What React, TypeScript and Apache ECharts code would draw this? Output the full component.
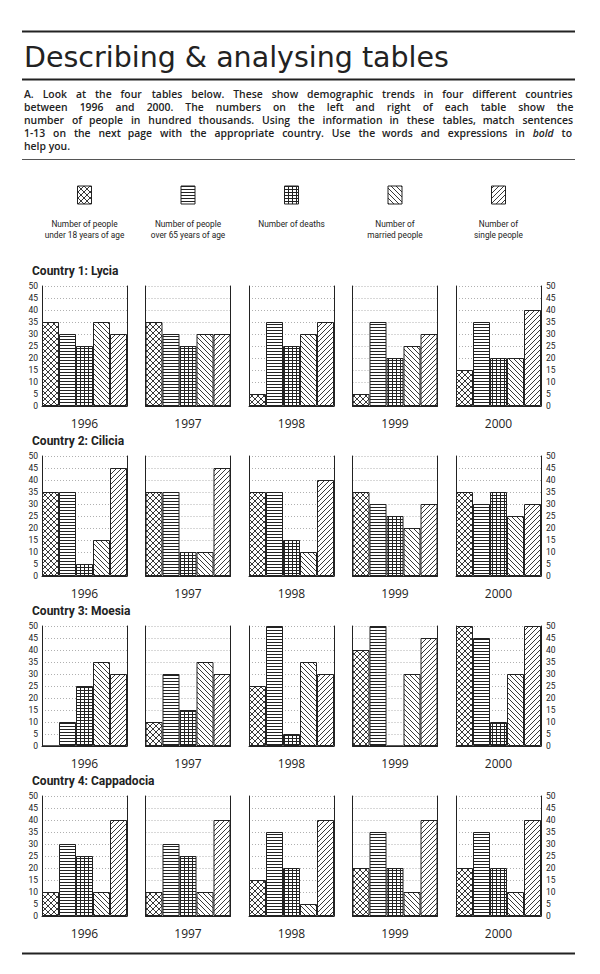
import React, { useEffect, useRef } from "react";
import * as echarts from "echarts";

// ---------- data ----------
const years = ["1996", "1997", "1998", "1999", "2000"];
const groupKeys = ["under18", "over65", "deaths", "married", "single"];
const legendLines = [
  ["Number of people", "under 18 years of age"],
  ["Number of people", "over 65 years of age"],
  ["Number of deaths"],
  ["Number of", "married people"],
  ["Number of", "single people"],
];
const countries = ["Country 1: Lycia", "Country 2: Cilicia", "Country 3: Moesia", "Country 4: Cappadocia"];

// each row = one year; values in order: under 18, over 65, deaths, married, single
const lycia = [
  [35, 30, 25, 35, 30],
  [35, 30, 25, 30, 30],
  [5, 35, 25, 30, 35],
  [5, 35, 20, 25, 30],
  [15, 35, 20, 20, 40],
];
const cilicia = [
  [35, 35, 5, 15, 45],
  [35, 35, 10, 10, 45],
  [35, 35, 15, 10, 40],
  [35, 30, 25, 20, 30],
  [35, 30, 35, 25, 30],
];
const moesia = [
  [0, 10, 25, 35, 30],
  [10, 30, 15, 35, 30],
  [25, 50, 5, 35, 30],
  [40, 50, 0, 30, 45],
  [50, 45, 10, 30, 50],
];
const cappadocia = [
  [10, 30, 25, 10, 40],
  [10, 30, 25, 10, 40],
  [15, 35, 20, 5, 40],
  [20, 35, 20, 10, 40],
  [20, 35, 20, 10, 40],
];
const countryData = [lycia, cilicia, moesia, cappadocia];

const yMin = 0;
const yMax = 50;
const yStep = 5;

const titleText = "Describing & analysing tables";
const paragraphLines = [
  "A. Look at the four tables below. These show demographic trends in four different countries",
  "between 1996 and 2000. The numbers on the left and right of each table show the",
  "number of people in hundred thousands. Using the information in these tables, match sentences",
  "1-13 on the next page with the appropriate country. Use the words and expressions in bold to",
  "help you.",
];

// ---------- styling / layout ----------
const INK = "#222";
const SMALL = "'Roboto', 'Liberation Sans', sans-serif";
const SANS = "'Open Sans', 'Noto Sans', sans-serif";
const FRAME_LEFT = 42;
const FRAME_STEP = 103.5;
const FRAME_W = 85;
const FRAME_H = 120;
const ROW_TOP = 286;
const ROW_STEP = 170;
const TEXT_LEFT = 24;
const TEXT_RIGHT = 573;

type Drawer = (ctx: CanvasRenderingContext2D, w: number, h: number) => void;

function tile(w: number, h: number, draw: Drawer) {
  const c = document.createElement("canvas");
  c.width = w;
  c.height = h;
  const ctx = c.getContext("2d")!;
  ctx.fillStyle = "#fff";
  ctx.fillRect(0, 0, w, h);
  ctx.fillStyle = INK;
  ctx.strokeStyle = INK;
  ctx.lineWidth = 0.9;
  draw(ctx, w, h);
  return { image: c.toDataURL(), repeat: "repeat", imageWidth: w, imageHeight: h };
}

function diag(ctx: CanvasRenderingContext2D, s: number, back: boolean) {
  ctx.beginPath();
  for (let k = -1; k <= 1; k++) {
    if (back) {
      ctx.moveTo(k * s - 1, -1);
      ctx.lineTo(k * s + s + 1, s + 1);
    } else {
      ctx.moveTo(k * s - 1, s + 1);
      ctx.lineTo(k * s + s + 1, -1);
    }
  }
  ctx.stroke();
}

function makePatterns() {
  return [
    tile(6, 6, (ctx, w) => {
      diag(ctx, w, true);
      diag(ctx, w, false);
    }),
    tile(4, 3, (ctx, w) => {
      ctx.fillRect(0, 0, w, 1);
    }),
    tile(4, 3, (ctx, w, h) => {
      ctx.fillRect(0, 0, w, 1);
      ctx.fillRect(0, 0, 1, h);
    }),
    tile(5, 5, (ctx, w) => diag(ctx, w, true)),
    tile(5, 5, (ctx, w) => diag(ctx, w, false)),
  ];
}

function justify(line: string, font: string, target: number): string {
  const ctx = document.createElement("canvas").getContext("2d")!;
  ctx.font = font;
  const w = ctx.measureText(line).width;
  const words = line.split(" ");
  const gaps = words.length - 1;
  const hair = ctx.measureText("\u200A").width || 1;
  if (gaps <= 0 || w >= target) return line;
  const extra = target - w;
  let out = "";
  for (let i = 0; i < words.length; i++) {
    out += words[i];
    if (i < gaps) {
      const n = Math.round((extra * (i + 1)) / gaps / hair) - Math.round((extra * i) / gaps / hair);
      out += " " + "\u200A".repeat(Math.max(0, n));
    }
  }
  return out;
}

export default function App() {
  const ref = useRef<HTMLDivElement>(null);

  useEffect(() => {
    document.body.style.margin = "0";
    const chart = echarts.init(ref.current!, null, { renderer: "svg", width: 600, height: 974 });
    const patterns = makePatterns();

    const grids: any[] = [];
    const xAxes: any[] = [];
    const yAxes: any[] = [];
    const series: any[] = [];

    countryData.forEach((rows, r) => {
      rows.forEach((vals, c) => {
        const g = r * 5 + c;
        grids.push({
          left: FRAME_LEFT + FRAME_STEP * c,
          top: ROW_TOP + ROW_STEP * r,
          width: FRAME_W,
          height: FRAME_H,
        });
        xAxes.push({
          gridIndex: g,
          type: "category",
          data: groupKeys,
          axisLine: { show: true, lineStyle: { color: INK, width: 1 } },
          axisTick: { show: false },
          axisLabel: { show: false },
          splitLine: { show: false },
          name: years[c],
          nameLocation: "middle",
          nameGap: 11,
          nameTextStyle: { fontSize: 12, color: INK, fontFamily: SANS },
        });
        const yBase = {
          gridIndex: g,
          type: "value",
          min: yMin,
          max: yMax,
          interval: yStep,
          axisLine: { show: true, lineStyle: { color: INK, width: 1 } },
          axisTick: { show: false },
        };
        yAxes.push({
          ...yBase,
          position: "left",
          axisLabel: { show: c === 0, margin: 4, fontSize: 8.5, color: INK, fontFamily: SMALL },
          splitLine: { show: true, lineStyle: { color: "#b0b0b0", type: [1, 2], width: 1 } },
        });
        yAxes.push({
          ...yBase,
          position: "right",
          axisLabel: { show: c === 4, margin: 5, fontSize: 8.5, color: INK, fontFamily: SMALL },
          splitLine: { show: false },
        });
        series.push({
          type: "bar",
          name: countries[r] + " " + years[c],
          xAxisIndex: g,
          yAxisIndex: 2 * g,
          barCategoryGap: "0%",
          silent: true,
          itemStyle: { borderColor: INK, borderWidth: 1 },
          data: vals.map((v, i) => ({ value: v, itemStyle: { color: patterns[i] } })),
        });
      });
    });

    const paraFont = `600 10.4px 'Open Sans'`;
    const elements: any[] = [];
    const rule = (y: number, w: number, color = INK) =>
      elements.push({
        type: "line",
        shape: { x1: 22, y1: y, x2: 575, y2: y },
        style: { stroke: color, lineWidth: w },
      });
    rule(31.5, 2);
    rule(79.5, 2);
    rule(159.5, 1.2, "#555");
    rule(953.5, 2);

    elements.push({
      type: "text",
      x: TEXT_LEFT,
      y: 57,
      style: {
        text: titleText,
        font: `400 28.5px 'DejaVu Sans'`,
        fill: INK,
        verticalAlign: "middle",
      },
    });

    paragraphLines.forEach((line, i) => {
      const last = i === paragraphLines.length - 1;
      let txt = last ? line : justify(line, paraFont, TEXT_RIGHT - TEXT_LEFT);
      const rich: any = {};
      if (/\sbold\s/u.test(txt)) {
        txt = txt.replace(/(\s)bold(\s)/u, "$1{i|bold}$2");
        rich.i = { font: `italic 600 10.4px 'Open Sans'`, fill: INK };
      }
      elements.push({
        type: "text",
        x: TEXT_LEFT,
        y: 94 + i * 13,
        style: { text: txt, font: paraFont, fill: INK, verticalAlign: "middle", rich },
      });
    });

    legendLines.forEach((lines, i) => {
      const cx = FRAME_LEFT + FRAME_STEP * i + FRAME_W / 2;
      elements.push({
        type: "rect",
        shape: { x: cx - 7, y: 186, width: 14, height: 18 },
        style: { fill: patterns[i], stroke: INK, lineWidth: 1 },
      });
      elements.push({
        type: "text",
        x: cx,
        y: 218.5,
        style: {
          text: lines.join("\n"),
          fontSize: 8.3,
          lineHeight: 11,
          fontFamily: SMALL,
          fill: INK,
          align: "center",
          verticalAlign: "top",
        },
      });
    });

    countries.forEach((name, r) => {
      elements.push({
        type: "text",
        x: 32,
        y: ROW_TOP - 15 + ROW_STEP * r,
        style: {
          text: name,
          fontSize: 12,
          fontWeight: "bold",
          fontFamily: SMALL,
          fill: INK,
          verticalAlign: "middle",
        },
      });
    });

    chart.setOption({
      animation: false,
      backgroundColor: "#fff",
      grid: grids,
      xAxis: xAxes,
      yAxis: yAxes,
      series,
      graphic: { elements },
    });
    return () => chart.dispose();
  }, []);

  return (
    <div
      ref={ref}
      style={{ position: "absolute", left: 0, top: 0, width: 600, height: 974, background: "#fff" }}
    />
  );
}
